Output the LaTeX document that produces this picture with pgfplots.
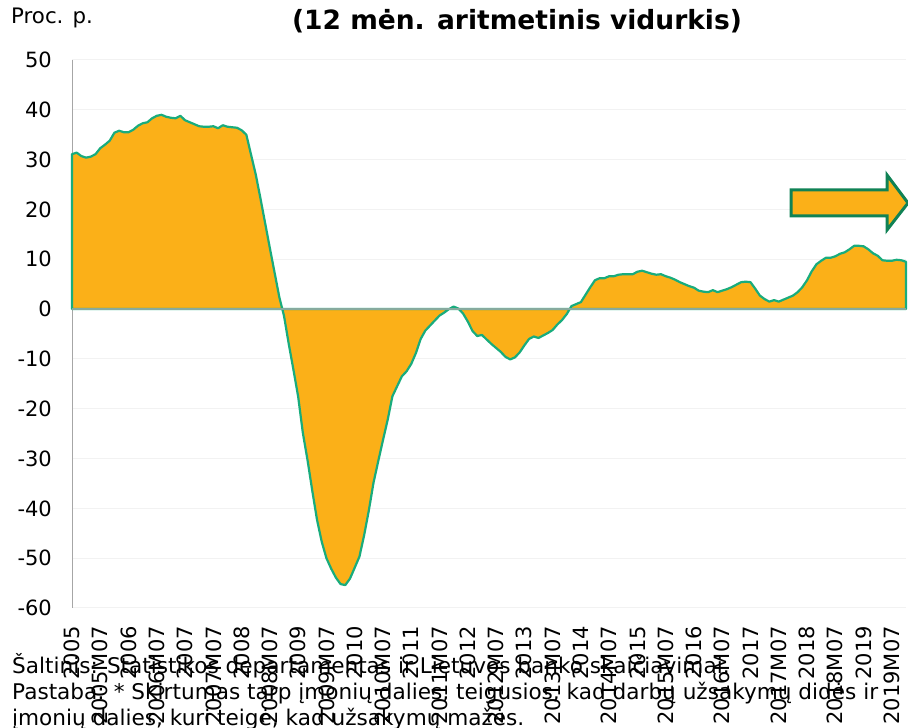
\documentclass[border=0pt]{standalone}
\usepackage{fontspec}
\setmainfont{DejaVu Sans}
\usepackage{pgfplots}
\pgfplotsset{compat=1.18}
\usepackage{pgfplotstable}

\definecolor{areaor}{RGB}{251,176,24}
\definecolor{areagr}{RGB}{25,172,125}
\definecolor{arrowgr}{RGB}{16,130,85}
\definecolor{gridc}{RGB}{242,242,242}
\definecolor{axgray}{RGB}{166,166,166}
\definecolor{zeroc}{RGB}{135,170,158}

\pgfplotstableread{
m v
0 31.1
1 31.4
2 30.7
3 30.4
4 30.6
5 31.1
6 32.3
7 33.0
8 33.8
9 35.4
10 35.8
11 35.5
12 35.5
13 36.0
14 36.8
15 37.3
16 37.5
17 38.3
18 38.8
19 39.0
20 38.6
21 38.4
22 38.3
23 38.8
24 37.9
25 37.5
26 37.1
27 36.7
28 36.6
29 36.6
30 36.7
31 36.3
32 36.9
33 36.6
34 36.5
35 36.4
36 35.9
37 35.0
38 31.0
39 27.0
40 22.2
41 17.2
42 12.2
43 7.3
44 2.4
45 -1.4
46 -7.0
47 -12.2
48 -17.6
49 -24.9
50 -30.4
51 -36.5
52 -42.3
53 -46.7
54 -50.0
55 -52.1
56 -53.9
57 -55.2
58 -55.4
59 -54.1
60 -51.9
61 -49.7
62 -45.4
63 -40.4
64 -34.8
65 -30.5
66 -26.3
67 -22.2
68 -17.5
69 -15.5
70 -13.5
71 -12.5
72 -11.0
73 -8.8
74 -6.0
75 -4.3
76 -3.3
77 -2.3
78 -1.3
79 -0.7
80 0.0
81 0.5
82 0.1
83 -0.9
84 -2.5
85 -4.4
86 -5.4
87 -5.2
88 -6.1
89 -7.0
90 -7.8
91 -8.6
92 -9.6
93 -10.1
94 -9.7
95 -8.7
96 -7.3
97 -6.0
98 -5.5
99 -5.8
100 -5.3
101 -4.8
102 -4.2
103 -3.1
104 -2.2
105 -1.0
106 0.6
107 1.0
108 1.4
109 2.9
110 4.4
111 5.8
112 6.2
113 6.2
114 6.6
115 6.6
116 6.9
117 7.0
118 7.0
119 7.0
120 7.5
121 7.7
122 7.4
123 7.1
124 6.9
125 7.0
126 6.6
127 6.3
128 5.9
129 5.4
130 5.0
131 4.6
132 4.3
133 3.7
134 3.5
135 3.4
136 3.8
137 3.4
138 3.7
139 4.0
140 4.4
141 4.9
142 5.4
143 5.5
144 5.4
145 4.1
146 2.7
147 2.0
148 1.5
149 1.8
150 1.5
151 1.9
152 2.3
153 2.7
154 3.4
155 4.4
156 5.8
157 7.6
158 9.0
159 9.7
160 10.3
161 10.3
162 10.6
163 11.1
164 11.4
165 12.0
166 12.7
167 12.7
168 12.6
169 12.0
170 11.2
171 10.7
172 9.8
173 9.7
174 9.7
175 9.9
176 9.8
177 9.5
}\datatbl

\begin{document}
\begin{tikzpicture}[x=1pt,y=1pt]
\useasboundingbox (0,0) rectangle (908,728);
\begin{axis}[
  at={(72pt,120pt)}, anchor=south west,
  scale only axis, width=834pt, height=548pt,
  xmin=0, xmax=177, ymin=-60, ymax=50,
  ytick={-60,-50,...,50},
  xtick={0,6,...,174},
  xticklabels={2005,2005M07,2006,2006M07,2007,2007M07,2008,2008M07,2009,2009M07,2010,2010M07,2011,2011M07,2012,2012M07,2013,2013M07,2014,2014M07,2015,2015M07,2016,2016M07,2017,2017M07,2018,2018M07,2019,2019M07},
  axis x line*=bottom, axis y line*=left,
  x axis line style={draw=none},
  y axis line style={axgray, line width=1pt},
  major tick length=0pt,
  ymajorgrids, grid style={gridc, line width=1pt},
  tick label style={font=\fontsize{21}{25}\selectfont},
  /pgf/number format/assume math mode=true,
  yticklabel style={anchor=east, inner sep=0pt},
  yticklabel shift=20pt,
  xticklabel style={rotate=90, anchor=east, inner sep=0pt},
  xticklabel shift=18pt,
  clip=false,
]
\addplot[fill=areaor, draw=areagr, line width=2.2pt, line join=round] table[x=m,y=v]{\datatbl} \closedcycle;
\addplot[zeroc, line width=1.3pt] coordinates {(0,0) (177,0)};
\end{axis}
\node[anchor=base, inner sep=0pt, font=\bfseries\fontsize{26.5}{30}\selectfont] at (517,698) {(12 mėn. aritmetinis vidurkis)};
\node[anchor=base west, inner sep=0pt, font=\fontsize{21.3}{25}\selectfont] at (11,704) {Proc. p.};
\node[anchor=base west, inner sep=0pt, font=\fontsize{21.6}{25}\selectfont] at (12,54) {Šaltinis: Statistikos departamentas ir Lietuvos banko skaičiavimai.};
\node[anchor=base west, inner sep=0pt, font=\fontsize{21.6}{25}\selectfont] at (12,28) {Pastaba: * Skirtumas tarp įmonių dalies, teigusios, kad darbų užsakymų didės ir};
\node[anchor=base west, inner sep=0pt, font=\fontsize{21.6}{25}\selectfont] at (12,2) {įmonių dalies, kuri teigė, kad užsakymų mažės.};
\draw[fill=areaor, draw=arrowgr, line width=3pt, line join=miter] (791,538) -- (887,538) -- (887,553) -- (908,525) -- (887,498) -- (887,512) -- (791,512) -- cycle;
\end{tikzpicture}
\end{document}
